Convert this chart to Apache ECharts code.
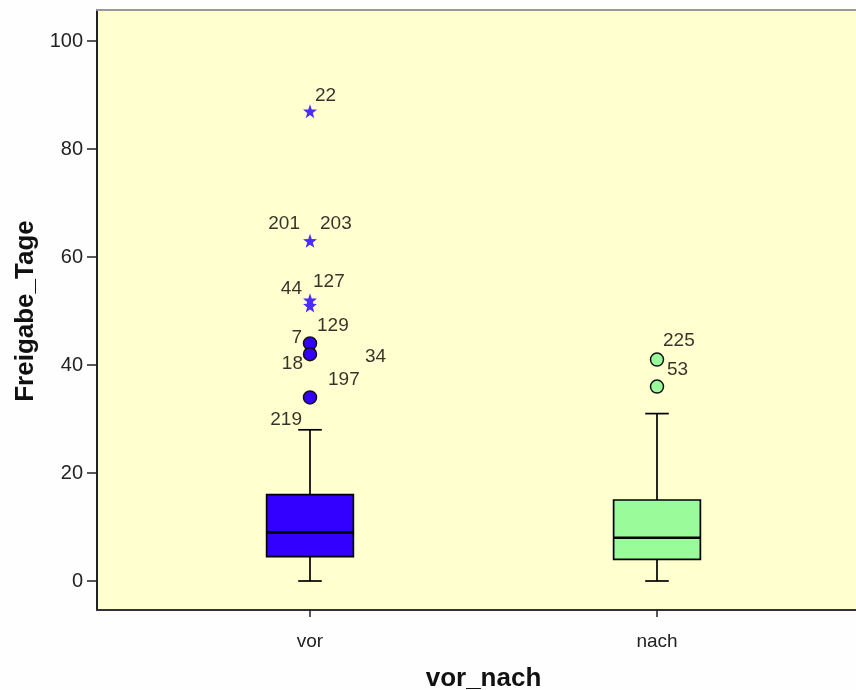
<!DOCTYPE html>
<html>
<head>
<meta charset="utf-8">
<script src="https://cdn.jsdelivr.net/npm/echarts@6/dist/echarts.min.js"></script>
<style>
  html, body { margin: 0; padding: 0; background: #fefefe; }
  #chart { width: 856px; height: 690px; }
</style>
</head>
<body>
<div id="chart"></div>
<script>
// Release days before / after the change
const categories = ['vor', 'nach'];
const yTicks = [0, 20, 40, 60, 80, 100];

// five-number summaries: min, Q1, median, Q3, max (whiskers)
const vorBox = [0, 4.5, 9, 16, 28];
const nachBox = [0, 4, 8, 15, 31];

// outliers (circles) and extreme values (stars)
const vorOutliers = [44, 42, 34];
const vorExtremes = [87, 63, 52, 51];
const nachOutliers = [41, 36];

// case numbers written next to the outlying points
const caseCats = [0, 0, 0, 0, 0, 0, 0, 0, 0, 0, 0, 1, 1];
const caseValues = [87, 63, 63, 52, 51, 44, 44, 42, 42, 34, 34, 41, 36];
const caseIds = ['22', '201', '203', '127', '44', '129', '7', '18', '34', '197', '219', '225', '53'];

// where each case number sits relative to its point: [dx, dy, align]
const casePlacement = [
  [5, -15, 'left'], [-10, -17, 'right'], [10, -17, 'left'],
  [3, -18, 'left'], [-8, -17, 'right'],
  [7, -18, 'left'], [-8, -6, 'right'],
  [-7, 10, 'right'], [55, 3, 'left'],
  [18, -18, 'left'], [-8, 22, 'right'],
  [6, -19, 'left'], [10, -17, 'left']
];

const boxColors = ['#3300ff', '#99fb99'];
const FONT = '"Liberation Sans", Arial, sans-serif';

const chart = echarts.init(document.getElementById('chart'), null, { renderer: 'canvas' });

const starPath = 'path://M0,-10 L2.35,-3.24 9.51,-3.09 3.8,1.24 5.88,8.09 0,4 -5.88,8.09 -3.8,1.24 -9.51,-3.09 -2.35,-3.24Z';

function renderBox(params, api) {
  const cat = api.value(0);
  const min = api.value(1), q1 = api.value(2), med = api.value(3), q3 = api.value(4), max = api.value(5);
  const band = api.size([1, 0])[0];
  const half = band * 0.125;
  const capHalf = band * 0.034;
  const x = api.coord([cat, med])[0];
  const y = v => api.coord([cat, v])[1];
  const lineStyle = { stroke: '#000', lineWidth: 1.7 };
  return {
    type: 'group',
    children: [
      { type: 'line', shape: { x1: x, y1: y(max), x2: x, y2: y(q3) }, style: lineStyle },
      { type: 'line', shape: { x1: x, y1: y(q1), x2: x, y2: y(min) }, style: lineStyle },
      { type: 'line', shape: { x1: x - capHalf, y1: y(max), x2: x + capHalf, y2: y(max) }, style: lineStyle },
      { type: 'line', shape: { x1: x - capHalf, y1: y(min), x2: x + capHalf, y2: y(min) }, style: lineStyle },
      { type: 'rect', shape: { x: x - half, y: y(q3), width: half * 2, height: y(q1) - y(q3) },
        style: { fill: boxColors[cat], stroke: '#000', lineWidth: 1.7 } },
      { type: 'line', shape: { x1: x - half, y1: y(med), x2: x + half, y2: y(med) },
        style: { stroke: '#000', lineWidth: 2.6 } }
    ]
  };
}

const hidden = { show: false };

const option = {
  backgroundColor: '#fefefe',
  animation: false,
  grid: [
    // data area (0 .. 100 days)
    { left: 136.5, top: 41, width: 694, height: 540, containLabel: false, outerBoundsMode: 'none' },
    // framed plot background
    { left: 97, top: 10, width: 770, height: 600, containLabel: false, outerBoundsMode: 'none',
      show: true, backgroundColor: '#ffffd0', borderWidth: 0, z: -1 },
    // category axis along the bottom of the frame
    { left: 136.5, top: 10, width: 694, height: 600, containLabel: false, outerBoundsMode: 'none' }
  ],
  xAxis: [
    {
      type: 'category', gridIndex: 0, data: categories, boundaryGap: true,
      axisLine: hidden, axisTick: hidden, axisLabel: hidden, splitLine: hidden
    },
    {
      type: 'value', gridIndex: 1, position: 'bottom', min: 0, max: 1,
      axisLine: { show: true, lineStyle: { color: '#333', width: 2 } },
      axisTick: hidden, axisLabel: hidden, splitLine: hidden
    },
    {
      type: 'value', gridIndex: 1, position: 'top', min: 0, max: 1,
      axisLine: { show: true, lineStyle: { color: '#999', width: 2 } },
      axisTick: hidden, axisLabel: hidden, splitLine: hidden
    },
    {
      type: 'category',
      gridIndex: 2,
      data: categories,
      boundaryGap: true,
      axisLine: hidden,
      axisTick: { show: true, alignWithLabel: true, length: 7, lineStyle: { color: '#222', width: 1.5 } },
      axisLabel: { color: '#222', fontFamily: FONT, fontSize: 19, margin: 22 },
      name: 'vor_nach',
      nameLocation: 'middle',
      nameGap: 56,
      nameTextStyle: { color: '#111', fontFamily: FONT, fontSize: 26, fontWeight: 'bold' },
      splitLine: hidden
    }
  ],
  yAxis: [
    {
      type: 'value',
      gridIndex: 0,
      min: yTicks[0],
      max: yTicks[yTicks.length - 1],
      interval: 20,
      offset: 39.5,
      axisLine: hidden,
      axisTick: { show: true, length: 10, lineStyle: { color: '#222', width: 1.5 } },
      axisLabel: { color: '#222', fontFamily: FONT, fontSize: 20, margin: 14 },
      splitLine: hidden,
      name: 'Freigabe_Tage',
      nameLocation: 'middle',
      nameGap: 56,
      nameTextStyle: { color: '#111', fontFamily: FONT, fontSize: 26, fontWeight: 'bold' }
    },
    {
      type: 'value', gridIndex: 1, position: 'left', min: 0, max: 1,
      axisLine: { show: true, lineStyle: { color: '#222', width: 2 } },
      axisTick: hidden, axisLabel: hidden, splitLine: hidden
    },
    {
      type: 'value', gridIndex: 2, min: 0, max: 1,
      axisLine: hidden, axisTick: hidden, axisLabel: hidden, splitLine: hidden
    }
  ],
  series: [
    {
      type: 'custom',
      renderItem: renderBox,
      xAxisIndex: 0, yAxisIndex: 0,
      data: [[0].concat(vorBox), [1].concat(nachBox)],
      encode: { x: 0, y: [1, 2, 3, 4, 5] },
      z: 2
    },
    {
      type: 'scatter',
      xAxisIndex: 0, yAxisIndex: 0,
      symbol: 'circle',
      symbolSize: 13,
      data: vorOutliers.map(v => ({ value: [0, v], itemStyle: { color: boxColors[0] } }))
        .concat(nachOutliers.map(v => ({ value: [1, v], itemStyle: { color: boxColors[1] } }))),
      itemStyle: { borderColor: '#111', borderWidth: 1.5, opacity: 1 },
      z: 3
    },
    {
      type: 'scatter',
      xAxisIndex: 0, yAxisIndex: 0,
      symbol: starPath,
      symbolSize: 14,
      data: vorExtremes.map(v => [0, v]),
      itemStyle: { color: '#4a2cff', opacity: 1 },
      z: 3
    },
    {
      type: 'scatter',
      xAxisIndex: 0, yAxisIndex: 0,
      symbolSize: 0,
      silent: true,
      data: caseIds.map((id, i) => ({
        value: [caseCats[i], caseValues[i]],
        label: {
          show: true,
          formatter: id,
          position: [0, 0],
          offset: [casePlacement[i][0], casePlacement[i][1]],
          align: casePlacement[i][2],
          verticalAlign: 'middle',
          color: '#000',
          fontFamily: FONT,
          fontSize: 19
        }
      })),
      z: 4
    }
  ]
};

chart.setOption(option);
</script>
</body>
</html>
